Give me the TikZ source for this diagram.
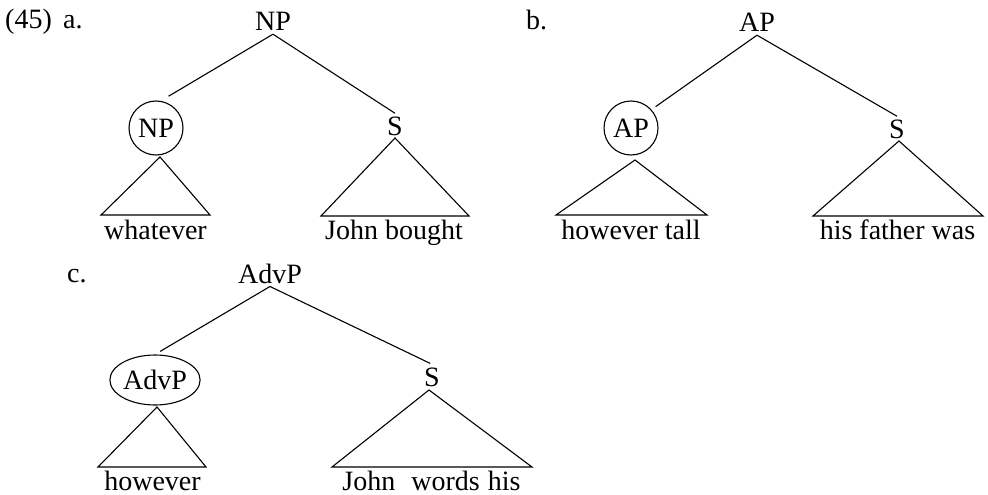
\documentclass[tikz,border=0pt]{standalone}
\usepackage{fontspec}
\setmainfont{Liberation Serif}
\usetikzlibrary{shapes.geometric}
\begin{document}
\begin{tikzpicture}[x=1pt,y=-1pt,
  lbl/.style={font=\fontsize{28}{32}\selectfont, inner sep=3pt, anchor=base},
  tag/.style={font=\fontsize{28}{32}\selectfont, inner sep=0pt, anchor=base west},
  ring/.style={draw, circle, line width=1.1pt, minimum size=54pt, inner sep=0pt,
    font=\fontsize{28}{32}\selectfont},
  oval/.style={draw, ellipse, line width=1.1pt, minimum width=84pt, minimum height=50pt,
    inner sep=0pt, font=\fontsize{28}{32}\selectfont},
  edge/.style={line width=1.1pt},
  roof/.style={line width=1.1pt, line join=miter}]
\useasboundingbox (0,0) rectangle (988,495);

% example numbers
\node[tag] (num) at (5,29) {(45)};
\node[tag] (la) at (63,29) {a.};
\node[tag] (lb) at (526,30) {b.};
\node[tag] (lc) at (67,282) {c.};

% (a) NP over circled NP and S
\node[lbl] (aRoot) at (273,31) {NP};
\node[ring] (aNP) at (156,128) {NP};
\node[lbl] (aS) at (395,135) {S};
\draw[edge, shorten >=9pt] (aRoot.south) -- (aNP.80);
\draw[edge] (aRoot.south) -- (aS.north);
\draw[roof] (160,157) -- (101,215) -- (210,215) -- cycle;
\draw[roof] (395,138) -- (321,216) -- (469,216) -- cycle;
\node[lbl] (aW1) at (155.5,239) {whatever};
\node[lbl] (aW2) at (394,239) {John bought};

% (b) AP over circled AP and S
\node[lbl] (bRoot) at (757,32) {AP};
\node[ring] (bAP) at (631,128) {AP};
\node[lbl] (bS) at (897,138) {S};
\draw[edge, shorten >=5pt] (bRoot.south) -- (bAP.42);
\draw[edge] (bRoot.south) -- (bS.north);
\draw[roof] (635,160) -- (556,215) -- (707,215) -- cycle;
\draw[roof] (899,141) -- (813,216) -- (983,216) -- cycle;
\node[lbl] (bW1) at (631,239) {however tall};
\node[lbl] (bW2) at (897.5,239) {his father was};

% (c) AdvP over encircled AdvP and S
\node[lbl] (cRoot) at (270,283) {AdvP};
\node[oval] (cAdv) at (155,380) {AdvP};
\node[lbl] (cS) at (432,386) {S};
\draw[edge, shorten >=6pt] (cRoot.south) -- (cAdv.north);
\draw[edge, shorten >=2pt] (cRoot.south) -- (cS.north);
\draw[roof] (157,407) -- (98,467) -- (206,467) -- cycle;
\draw[roof] (429,390) -- (332,467) -- (532,467) -- cycle;
\node[lbl] (cW1) at (152.5,490) {however};
\node[lbl] (cW2) at (431.5,490) {John\hspace{16pt}words\hspace{1pt} his};
\end{tikzpicture}
\end{document}
